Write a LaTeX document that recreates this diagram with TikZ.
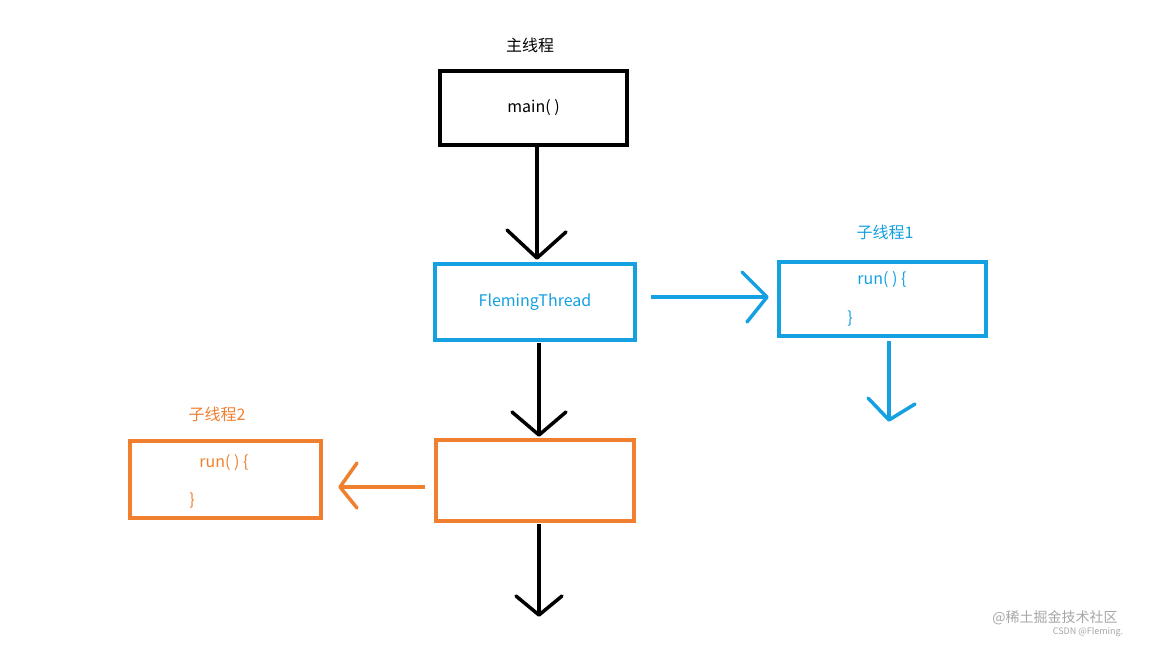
\documentclass[tikz,border=0pt]{standalone}
\usepackage{fontspec}
\setmainfont{Noto Sans CJK SC}
\begin{document}
\definecolor{bl}{RGB}{20,160,225}
\definecolor{orr}{RGB}{240,128,48}
\begin{tikzpicture}[x=1pt,y=-1pt,
  box/.style={draw,line width=3.5pt,minimum width=#1,inner sep=0pt},
  lbl/.style={font=\fontsize{16}{18}\selectfont},
  ln/.style={line width=3.5pt},
  hd/.style={line width=3.5pt,line cap=round,line join=round}]
\useasboundingbox (0,0) rectangle (1152,648);
\node[box=187pt,minimum height=74pt] (m) at (533.5,108) {};
\node[lbl] at (533.5,108) {main( )};
\node[lbl] (ml) at (530,45) {主线程};
\node[box=200pt,minimum height=76pt,draw=bl,text=bl,lbl] (f) at (535,302) {FlemingThread};
\node[box=207pt,minimum height=74pt,draw=bl] (b) at (882.5,299) {};
\node[lbl,text=bl] at (882,280) {run( ) \{};
\node[lbl,text=bl] at (850,319) {\}};
\node[lbl,text=bl] (bl1) at (885,232) {子线程1};
\node[box=198pt,minimum height=81pt,draw=orr] (o) at (535,480.5) {};
\node[box=191pt,minimum height=77pt,draw=orr] (o2) at (225.5,479.5) {};
\node[lbl,text=orr] at (224,463) {run( ) \{};
\node[lbl,text=orr] at (192,501) {\}};
\node[lbl,text=orr] (ol) at (217,414) {子线程2};
% arrows
\coordinate (a1) at (537,258); \draw[ln] (m.south) ++(3.5,0) -- (a1);
\draw[hd] (507,230) -- (a1) -- (566,232);
\coordinate (a2) at (767,297); \draw[ln,bl] (651,297) -- (a2);
\draw[hd,bl] (742,272) -- (a2) -- (747,322);
\coordinate (a3) at (889,420); \draw[ln,bl] (889,341) -- (a3);
\draw[hd,bl] (868,398) -- (a3) -- (915,404);
\coordinate (a4) at (539,435); \draw[ln] (539,343) -- (a4);
\draw[hd] (512,412) -- (a4) -- (566,412);
\coordinate (a5) at (340,487); \draw[ln,orr] (425,487) -- (a5);
\draw[hd,orr] (357,463) -- (a5) -- (357,508);
\coordinate (a6) at (539,615); \draw[ln] (539,524) -- (a6);
\draw[hd] (516,596) -- (a6) -- (562,596);
\node[text=gray!70,font=\fontsize{14}{16}\selectfont] (w1) at (1055,618) {@稀土掘金技术社区};
\node[text=gray!70,font=\fontsize{9}{10}\selectfont] (w2) at (1088,632) {CSDN @Fleming.};
\end{tikzpicture}
\end{document}
